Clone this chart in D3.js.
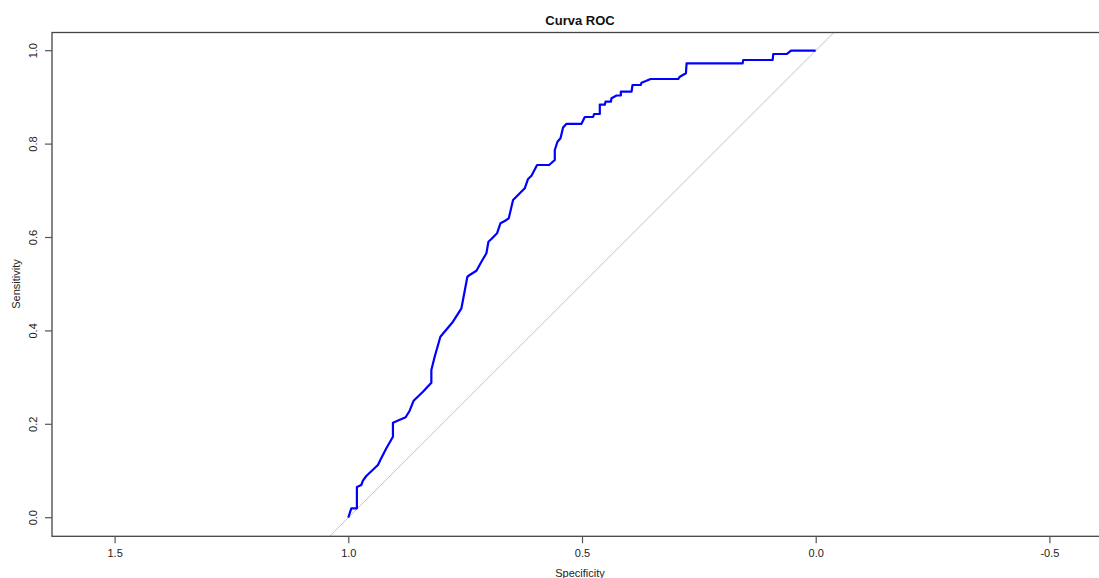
<!DOCTYPE html>
<html>
<head>
<meta charset="utf-8">
<script src="https://cdn.jsdelivr.net/npm/d3@7"></script>
<style>
  body { margin: 0; background: #fff; }
  text { font-family: "Liberation Sans", Arial, sans-serif; }
</style>
</head>
<body>
<div id="chart"></div>
<script>
// ROC curve points
var specificity = [1.000, 0.9936, 0.9816, 0.9816, 0.9722, 0.9687, 0.9615, 0.9366, 0.9315, 0.9186,
  0.9045, 0.9045, 0.8773, 0.8687, 0.8602, 0.8403, 0.8223, 0.8223, 0.8152, 0.8030,
  0.7760, 0.7580, 0.7452, 0.7403, 0.7259, 0.7152, 0.7045, 0.7002, 0.6938, 0.6818,
  0.6745, 0.6653, 0.6567, 0.6475, 0.6368, 0.6225, 0.6154, 0.6081, 0.5961, 0.5704,
  0.5582, 0.5582, 0.5525, 0.5460, 0.5405, 0.5332, 0.5011, 0.4940, 0.4762, 0.4741,
  0.4619, 0.4619, 0.4512, 0.4497, 0.4383, 0.4368, 0.4261, 0.4169, 0.4169, 0.3940,
  0.3919, 0.3741, 0.3726, 0.3634, 0.3533, 0.2942, 0.2906, 0.2777, 0.2762, 0.1563,
  0.1550, 0.0921, 0.0908, 0.0621, 0.0529, 0.000];
var sensitivity = [0.000, 0.020, 0.020, 0.0657, 0.070, 0.0792, 0.0893, 0.1128, 0.1236, 0.1486,
  0.1734, 0.2034, 0.2150, 0.2291, 0.2505, 0.2698, 0.2891, 0.3163, 0.3448, 0.3876,
  0.4197, 0.4484, 0.5161, 0.5197, 0.5289, 0.5482, 0.5662, 0.5910, 0.5968, 0.6090,
  0.6304, 0.6353, 0.6411, 0.6803, 0.6910, 0.7054, 0.7253, 0.7323, 0.7552, 0.7552,
  0.7660, 0.7874, 0.8051, 0.8124, 0.8355, 0.8435, 0.8435, 0.8580, 0.8580, 0.8645,
  0.8645, 0.8844, 0.8844, 0.8908, 0.8908, 0.8981, 0.9041, 0.9041, 0.9122, 0.9122,
  0.9266, 0.9266, 0.9315, 0.9351, 0.9394, 0.9394, 0.9443, 0.9516, 0.9730, 0.9730,
  0.9801, 0.9801, 0.9929, 0.9929, 1.000, 1.000];
var xTicks = [1.5, 1.0, 0.5, 0.0, -0.5];
var yTicks = [0.0, 0.2, 0.4, 0.6, 0.8, 1.0];

var width = 1099, height = 578;
var box = { left: 52, top: 32.5, right: 1110, bottom: 536.3 };

var svg = d3.select("#chart").append("svg")
  .attr("width", width)
  .attr("height", height);

var x = d3.scaleLinear().domain([1, 0]).range([348.3, 815.7]);
var y = d3.scaleLinear().domain([0, 1]).range([517.7, 50.7]);

svg.append("defs").append("clipPath")
  .attr("id", "clip")
  .append("rect")
  .attr("x", box.left)
  .attr("y", box.top)
  .attr("width", box.right - box.left)
  .attr("height", box.bottom - box.top);

// identity line
var yLo = y.invert(box.bottom), yHi = y.invert(box.top);
svg.append("line")
  .attr("clip-path", "url(#clip)")
  .attr("x1", x(1 - yLo)).attr("y1", y(yLo))
  .attr("x2", x(1 - yHi)).attr("y2", y(yHi))
  .attr("stroke", "#c4c4c4")
  .attr("stroke-width", 1);

var data = specificity.map(function(s, i) {
  return { spec: s, sens: sensitivity[i] };
});

var line = d3.line()
  .x(function(d) { return x(d.spec); })
  .y(function(d) { return y(d.sens); });

svg.append("path")
  .datum(data)
  .attr("clip-path", "url(#clip)")
  .attr("d", line)
  .attr("fill", "none")
  .attr("stroke", "#0000ff")
  .attr("stroke-width", 2.2)
  .attr("stroke-linejoin", "round");

// box
svg.append("rect")
  .attr("x", box.left)
  .attr("y", box.top)
  .attr("width", box.right - box.left)
  .attr("height", box.bottom - box.top)
  .attr("fill", "none")
  .attr("stroke", "#444")
  .attr("stroke-width", 1.3);

// x axis
var xAxis = d3.axisBottom(x)
  .tickValues(xTicks)
  .tickSize(7)
  .tickPadding(6)
  .tickFormat(function(d) { return d.toFixed(1); });
var gx = svg.append("g")
  .attr("transform", "translate(0," + box.bottom + ")")
  .call(xAxis);
gx.select(".domain").remove();
gx.selectAll("line").attr("stroke", "#555").attr("stroke-width", 1.2);
gx.selectAll("text").attr("font-size", 11).attr("fill", "#222")
  .attr("font-family", "Liberation Sans, Arial, sans-serif");

// y axis
var gy = svg.append("g");
gy.selectAll("line.tick")
  .data(yTicks)
  .enter()
  .append("line")
  .attr("class", "tick")
  .attr("x1", box.left - 7)
  .attr("x2", box.left)
  .attr("y1", function(d) { return y(d); })
  .attr("y2", function(d) { return y(d); })
  .attr("stroke", "#555")
  .attr("stroke-width", 1.2);
gy.selectAll("text")
  .data(yTicks)
  .enter()
  .append("text")
  .attr("transform", function(d) { return "translate(37," + y(d) + ") rotate(-90)"; })
  .attr("text-anchor", "middle")
  .attr("font-size", 11)
  .attr("fill", "#222")
  .text(function(d) { return d.toFixed(1); });

// titles
svg.append("text")
  .attr("x", 580)
  .attr("y", 25)
  .attr("text-anchor", "middle")
  .attr("font-size", 13)
  .attr("font-weight", "bold")
  .attr("fill", "#111")
  .text("Curva ROC");

svg.append("text")
  .attr("x", 580)
  .attr("y", 577)
  .attr("text-anchor", "middle")
  .attr("font-size", 11)
  .attr("fill", "#222")
  .text("Specificity");

svg.append("text")
  .attr("transform", "translate(20,284) rotate(-90)")
  .attr("text-anchor", "middle")
  .attr("font-size", 11)
  .attr("fill", "#222")
  .text("Sensitivity");
</script>
</body>
</html>
